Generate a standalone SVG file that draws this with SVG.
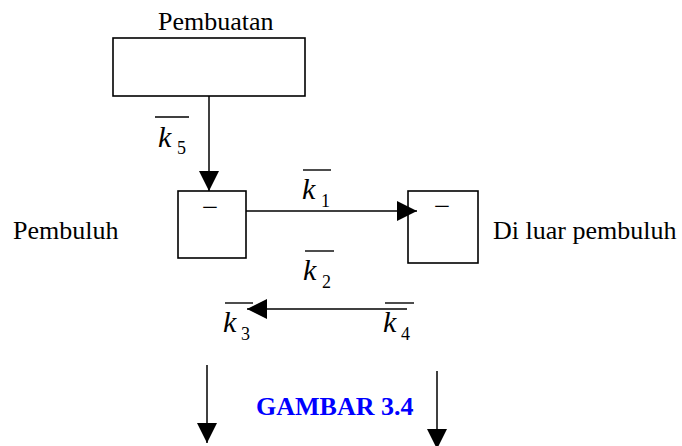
<svg xmlns="http://www.w3.org/2000/svg" width="682" height="446" viewBox="0 0 682 446">
  <style>
    .box { fill: #fff; stroke: #000; stroke-width: 1.6; }
    .lbl { font-family: "Liberation Serif", "Times New Roman", serif; font-size: 26px; fill: #000; }
    .dash { font-family: "Liberation Serif", "Times New Roman", serif; font-size: 29px; fill: #000; }
    .k { font-family: "Liberation Serif", "Times New Roman", serif; font-style: italic; font-size: 30px; fill: #000; }
    .sub { font-family: "Liberation Serif", "Times New Roman", serif; font-size: 18px; fill: #000; }
    .bar { stroke: #000; stroke-width: 1.4; }
    .edge { stroke: #000; stroke-width: 1.5; fill: none; marker-end: url(#head); }
    .caption { font-family: "Liberation Serif", "Times New Roman", serif; font-weight: bold; font-size: 26px; fill: #0000ff; }
  </style>
  <defs>
    <marker id="head" markerUnits="userSpaceOnUse" markerWidth="20" markerHeight="20" viewBox="0 0 20 20" refX="20" refY="10" orient="auto">
      <path d="M0,0 L20,10 L0,20 Z" fill="#000"/>
    </marker>
  </defs>

  <rect width="682" height="446" fill="#fff"/>

  <!-- source compartment -->
  <g id="pembuatan">
    <rect class="box" x="113" y="38" width="192" height="58"/>
    <text class="lbl" x="158" y="30">Pembuatan</text>
  </g>

  <!-- vessel compartment -->
  <g id="pembuluh">
    <rect class="box" x="178" y="191" width="68" height="67"/>
    <text class="dash" x="210" y="217" text-anchor="middle">−</text>
    <text class="lbl" x="13" y="239">Pembuluh</text>
  </g>

  <!-- outside-vessel compartment -->
  <g id="luar">
    <rect class="box" x="408" y="191" width="70" height="72"/>
    <text class="dash" x="442" y="216" text-anchor="middle">−</text>
    <text class="lbl" x="493" y="239">Di luar pembuluh</text>
  </g>

  <!-- flows -->
  <g id="connectors">
    <line class="edge" x1="209" y1="96" x2="209" y2="191"/>
    <line class="edge" x1="246" y1="211" x2="417" y2="211"/>
    <line class="edge" x1="407" y1="309" x2="247" y2="309"/>
    <line class="edge" x1="207" y1="365" x2="207" y2="443"/>
    <line class="edge" x1="437" y1="371" x2="437" y2="449"/>
  </g>

  <!-- rate constants -->
  <g id="rates">
    <g id="k5">
      <line class="bar" x1="155" y1="117" x2="189" y2="117"/>
      <text class="k" x="158" y="147">k</text>
      <text class="sub" x="177" y="154">5</text>
    </g>
    <g id="k1">
      <line class="bar" x1="303" y1="170" x2="331" y2="170"/>
      <text class="k" x="302" y="199">k</text>
      <text class="sub" x="321" y="207">1</text>
    </g>
    <g id="k2">
      <line class="bar" x1="305" y1="251" x2="334" y2="251"/>
      <text class="k" x="303" y="280">k</text>
      <text class="sub" x="322" y="288">2</text>
    </g>
    <g id="k3">
      <line class="bar" x1="225" y1="303" x2="253" y2="303"/>
      <text class="k" x="223" y="332">k</text>
      <text class="sub" x="241" y="340">3</text>
    </g>
    <g id="k4">
      <line class="bar" x1="385" y1="303" x2="414" y2="303"/>
      <text class="k" x="383" y="332">k</text>
      <text class="sub" x="401" y="340">4</text>
    </g>
  </g>

  <text class="caption" x="256" y="415">GAMBAR 3.4</text>
</svg>
